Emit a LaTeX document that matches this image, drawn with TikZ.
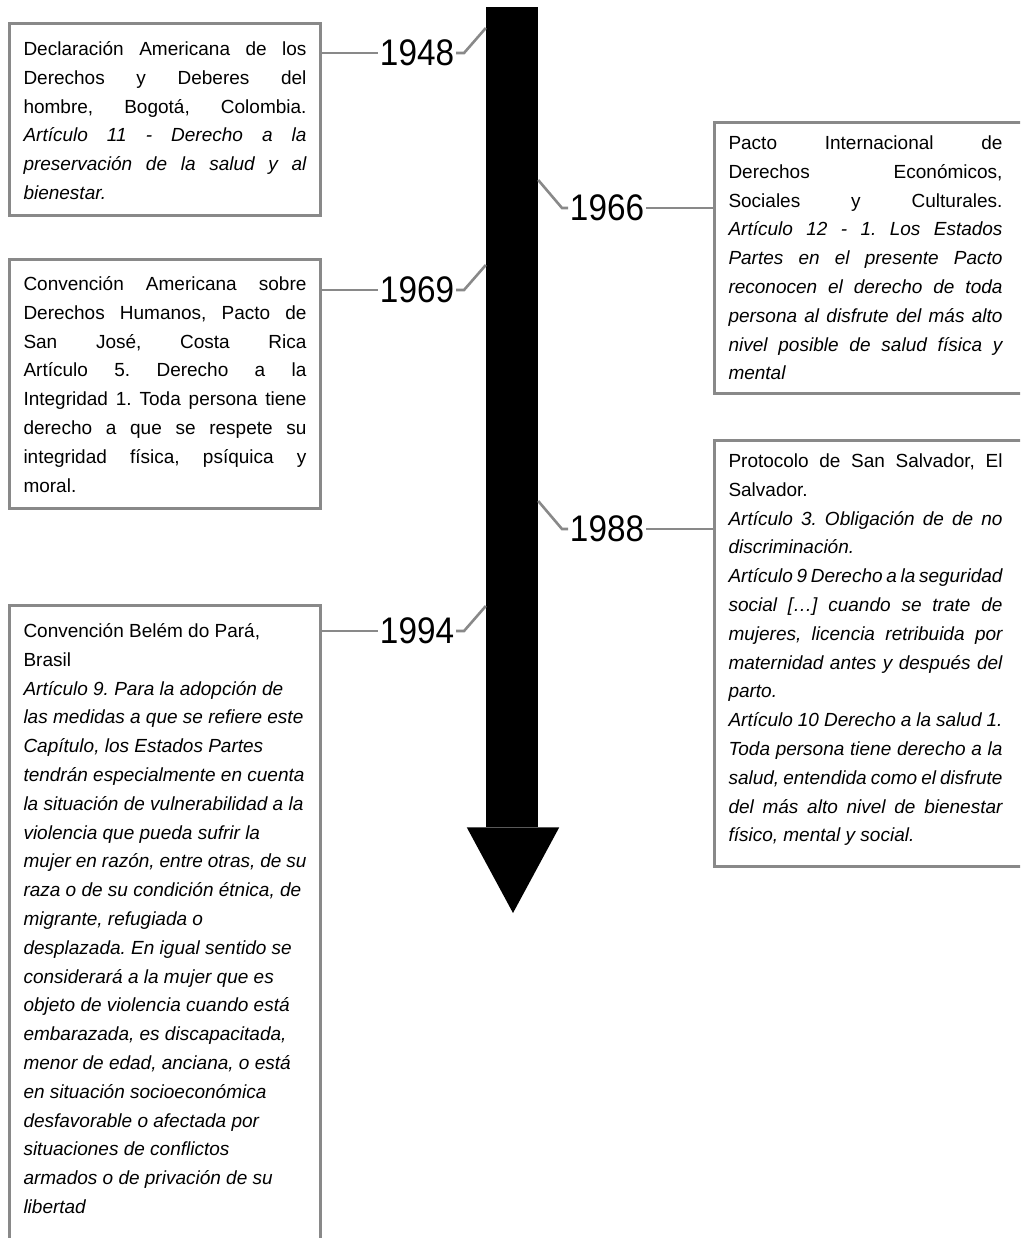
\documentclass[tikz,border=0pt]{standalone}
\usepackage{fontspec}
\setmainfont{Liberation Sans}
\usetikzlibrary{calc}
\definecolor{boxgray}{HTML}{898989}
\frenchspacing

% justified lines with the breaks of the original
\newcommand{\boxtext}[2]{\parbox[t]{#1}{\tolerance=10000\hbadness=10000
  \hyphenpenalty=10000\exhyphenpenalty=10000 #2}}

\begin{document}
\begin{tikzpicture}[x=1pt,y=1pt,
    docbox/.style={draw=boxgray, line width=3pt, inner xsep=14pt, inner ysep=0pt,
      anchor=north west, font=\fontsize{19}{28.8}\selectfont},
    year/.style={font=\fontsize{37}{37}\selectfont, xscale=0.9, inner sep=2pt, anchor=west},
    link/.style={draw=boxgray, line width=2.6pt}]
  \useasboundingbox (0,0) rectangle (1020,-1238);
  \clip (0,0) rectangle (1020,-1238);

  % time arrow
  \node[fill=black, inner sep=0pt, minimum width=52pt, minimum height=820pt, anchor=north] (shaft) at (512,-7) {};
  \coordinate (tip) at (513,-913);
  \fill ([xshift=-19pt]shaft.south west) -- ([xshift=21pt]shaft.south east) -- (tip) -- cycle;

  % left column
  \node[docbox, text height=32pt, text depth=160pt] (b1948) at (8,-22) {\boxtext{283pt}{%
    Declaración Americana de los\linebreak
    Derechos y Deberes del\linebreak
    hombre, Bogotá, Colombia.\linebreak
    {\itshape Artículo 11 - Derecho a la\linebreak
    preservación de la salud y al\linebreak
    bienestar.}}};
  \node[docbox, text height=31pt, text depth=218pt] (b1969) at (8,-258) {\boxtext{283pt}{%
    Convención Americana sobre\linebreak
    Derechos Humanos, Pacto de\linebreak
    San José, Costa Rica\linebreak
    Artículo 5. Derecho a la\linebreak
    Integridad 1. Toda persona tiene\linebreak
    derecho a que se respete su\linebreak
    integridad física, psíquica y\linebreak
    moral.}};
  \node[docbox, text height=32pt, text depth=640pt] (b1994) at (8,-604) {\boxtext{283pt}{\raggedright
    Convención Belém do Pará,\\
    Brasil\\
    \itshape Artículo 9. Para la adopción de\\
    las medidas a que se refiere este\\
    Capítulo, los Estados Partes\\
    tendrán especialmente en cuenta\\
    la situación de vulnerabilidad a la\\
    violencia que pueda sufrir la\\
    mujer en razón, entre otras, de su\\
    raza o de su condición étnica, de\\
    migrante, refugiada o\\
    desplazada. En igual sentido se\\
    considerará a la mujer que es\\
    objeto de violencia cuando está\\
    embarazada, es discapacitada,\\
    menor de edad, anciana, o está\\
    en situación socioeconómica\\
    desfavorable o afectada por\\
    situaciones de conflictos\\
    armados o de privación de su\\
    libertad}};

  % right column
  \node[docbox, text height=27pt, text depth=244pt] (b1966) at (713,-121) {\boxtext{274pt}{%
    Pacto Internacional de\linebreak
    Derechos Económicos,\linebreak
    Sociales y Culturales.\linebreak
    {\itshape Artículo 12 - 1. Los Estados\linebreak
    Partes en el presente Pacto\linebreak
    reconocen el derecho de toda\linebreak
    persona al disfrute del más alto\linebreak
    nivel posible de salud física y\linebreak
    mental}}\hspace*{40pt}};
  \node[docbox, text height=27pt, text depth=399pt] (b1988) at (713,-439) {\boxtext{274pt}{%
    Protocolo de San Salvador, El\linebreak
    Salvador.\par
    \itshape Artículo 3. Obligación de de no\linebreak
    discriminación.\par
    Artículo 9 Derecho a la seguridad\linebreak
    social […] cuando se trate de\linebreak
    mujeres, licencia retribuida por\linebreak
    maternidad antes y después del\linebreak
    parto.\par
    Artículo 10 Derecho a la salud 1.\linebreak
    Toda persona tiene derecho a la\linebreak
    salud, entendida como el disfrute\linebreak
    del más alto nivel de bienestar\linebreak
    físico, mental y social.}\hspace*{40pt}};

  % years
  \node[year] (y1948) at (378,-53) {1948};
  \node[year] (y1969) at (378,-290) {1969};
  \node[year] (y1994) at (378,-631) {1994};
  \node[year] (y1966) at (568,-208) {1966};
  \node[year] (y1988) at (568,-529) {1988};

  % points where the links meet the arrow
  \coordinate (k1948) at (0,-28);
  \coordinate (k1969) at (0,-265);
  \coordinate (k1994) at (0,-606);
  \coordinate (k1966) at (0,-180);
  \coordinate (k1988) at (0,-501);

  \foreach \yr in {1948,1969,1994}{
    \draw[link] (b\yr.east |- y\yr.west) -- (y\yr.west);
    \draw[link] (y\yr.east) -- ++(8,0) -- (shaft.west |- k\yr);
  }
  \foreach \yr in {1966,1988}{
    \draw[link] (shaft.east |- k\yr) -- ($(y\yr.west)+(-6,0)$) -- (y\yr.west);
    \draw[link] (y\yr.east) -- (y\yr.east -| b\yr.west);
  }
\end{tikzpicture}
\end{document}
